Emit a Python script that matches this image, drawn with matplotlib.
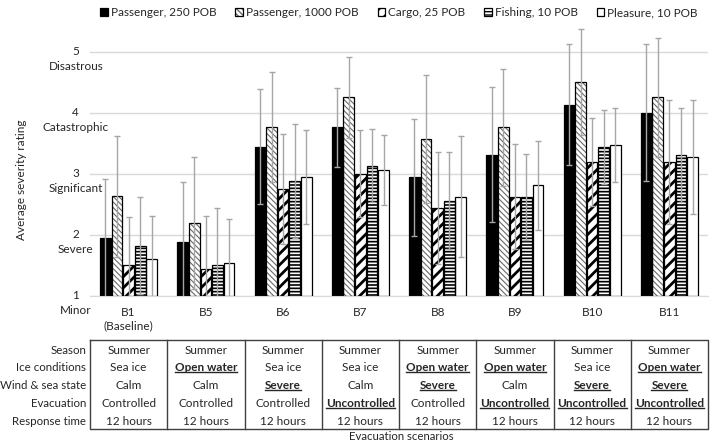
import numpy as np
import matplotlib.pyplot as plt
from matplotlib.patches import Patch
from matplotlib.lines import Line2D
from matplotlib.transforms import blended_transform_factory

plt.rcParams['font.family'] = ['Lato', 'DejaVu Sans']
plt.rcParams['font.size'] = 8.5
TXT = '#262626'

# scenarios and series
scenarios = ['B1\n(Baseline)', 'B5', 'B6', 'B7', 'B8', 'B9', 'B10', 'B11']
series = ['Passenger, 250 POB', 'Passenger, 1000 POB', 'Cargo, 25 POB',
          'Fishing, 10 POB', 'Pleasure, 10 POB']
pass250 = [1.94, 1.88, 3.44, 3.76, 2.94, 3.31, 4.13, 4.00]
pass1000 = [2.63, 2.19, 3.76, 4.25, 3.57, 3.76, 4.50, 4.25]
cargo25 = [1.50, 1.43, 2.75, 3.00, 2.44, 2.62, 3.19, 3.19]
fishing10 = [1.82, 1.50, 2.88, 3.13, 2.56, 2.62, 3.44, 3.31]
pleasure10 = [1.60, 1.53, 2.94, 3.06, 2.62, 2.81, 3.47, 3.27]
err250 = [0.97, 0.98, 0.94, 0.65, 0.96, 1.11, 0.99, 1.12]
err1000 = [0.99, 1.08, 0.90, 0.66, 1.05, 0.96, 0.87, 0.97]
err_cargo = [0.79, 0.87, 0.90, 0.71, 0.92, 0.86, 0.72, 1.01]
err_fish = [0.80, 0.94, 0.93, 0.60, 0.79, 0.70, 0.61, 0.77]
err_pleas = [0.71, 0.72, 0.77, 0.58, 0.99, 0.73, 0.61, 0.93]

severity = [1, 2, 3, 4, 5]
severity_names = ['Minor', 'Severe', 'Significant', 'Catastrophic', 'Disastrous']

row_names = ['Season', 'Ice conditions', 'Wind & sea state', 'Evacuation', 'Response time']
season = ['Summer'] * 8
ice = ['Sea ice', 'Open water', 'Sea ice', 'Sea ice', 'Open water', 'Open water', 'Sea ice', 'Open water']
wind = ['Calm', 'Calm', 'Severe', 'Calm', 'Severe', 'Calm', 'Severe', 'Severe']
evac = ['Controlled', 'Controlled', 'Controlled', 'Uncontrolled', 'Controlled',
        'Uncontrolled', 'Uncontrolled', 'Uncontrolled']
response = ['12 hours'] * 8

W, H = 716, 442
fig = plt.figure(figsize=(W / 100, H / 100), dpi=100)
ax = fig.add_axes([90 / W, 1 - 295.7 / H, 618 / W, 271.5 / H])

x = np.arange(len(scenarios))
vals = [pass250, pass1000, cargo25, fishing10, pleasure10]
errs = [err250, err1000, err_cargo, err_fish, err_pleas]
# (fill, hatch, hatch color, hatch linewidth)
styles = [('black', '', 'black', 1.0),
          ('white', '\\\\\\\\\\\\', '#6a6a6a', 0.8),
          ('white', '///', 'black', 2.0),
          ('white', '-----', 'black', 1.2),
          ('white', '', 'black', 1.0)]
bw, pitch = 0.138, 0.15
handles = []
for i, (v, e, (fc, hatch, hc, hlw)) in enumerate(zip(vals, errs, styles)):
    xs = x + (i - 2) * pitch
    with plt.rc_context({'hatch.linewidth': hlw}):
        ax.bar(xs, np.array(v) - 1, bw, bottom=1, color=fc, edgecolor=hc,
               hatch=hatch, linewidth=0, zorder=2)
        hp = Patch(facecolor=fc, edgecolor=hc, hatch=hatch, linewidth=0)
    ax.bar(xs, np.array(v) - 1, bw, bottom=1, fill=False, edgecolor='black',
           linewidth=0.9, zorder=3)
    op = Patch(fill=False, edgecolor='black', linewidth=0.9)
    handles.append((hp, op))
    ax.errorbar(xs, v, yerr=e, fmt='none', ecolor='#a6a6a6', elinewidth=1,
                capsize=2.2, capthick=1, zorder=4)

ax.set_xlim(-0.5, len(scenarios) - 0.5)
ax.set_ylim(1, 5.45)
ax.set_yticks(severity)
ax.set_yticklabels([])
ax.grid(axis='y', color='#d9d9d9', lw=1, zorder=0)
ax.tick_params(length=0)
for s in ['top', 'right', 'left']:
    ax.spines[s].set_visible(False)
ax.spines['bottom'].set_color('#d9d9d9')
ax.set_xticks(x)
ax.set_xticklabels(scenarios, color=TXT, linespacing=1.25)
ax.tick_params(axis='x', pad=8)

ytr = blended_transform_factory(ax.transAxes, ax.transData)
for s, n in zip(severity, severity_names):
    ax.text(-0.023, s, str(s), transform=ytr, ha='center', va='center', color=TXT)
    ax.text(-0.023, s - 0.25, n, transform=ytr, ha='center', va='center', color=TXT)

fig.text(22 / W, 1 - 180 / H, 'Average severity rating', rotation=90,
         ha='center', va='center', color=TXT)

fig.legend(handles, series, loc='center', bbox_to_anchor=(399 / W, 1 - 13 / H),
           ncol=5, frameon=False, handlelength=0.65, handleheight=0.65,
           handletextpad=0.25, columnspacing=1.6, labelcolor=TXT)

# scenario table below the chart
ttr = blended_transform_factory(ax.transData, fig.transFigure)
top, bot = 1 - 340 / H, 1 - 429 / H
ax.plot([-0.5, 7.5, 7.5, -0.5, -0.5], [top, top, bot, bot, top], transform=ttr,
        color='#404040', lw=1, clip_on=False)
for b in np.arange(0.5, 7.5, 1):
    ax.plot([b, b], [top, bot], transform=ttr, color='#404040', lw=1, clip_on=False)

rows = [season, ice, wind, evac, response]
row_y = [350, 367.7, 385.7, 403.7, 421.7]
bold_texts = []
for name, row, ry in zip(row_names, rows, row_y):
    fy = 1 - ry / H
    fig.text(86 / W, fy, name, ha='right', va='center', color=TXT, fontsize=8.3)
    for j, cell in enumerate(row):
        bold = cell != row[0]
        t = ax.text(j, fy, cell, transform=ttr, ha='center', va='center',
                    color=TXT, fontweight='bold' if bold else 'normal')
        if bold:
            bold_texts.append(t)

fig.text(401 / W, 1 - 441.5 / H, 'Evacuation scenarios', ha='center', va='bottom',
         color=TXT, fontsize=8.2)

# underline the bold cells
fig.canvas.draw()
rend = fig.canvas.get_renderer()
inv = fig.transFigure.inverted()
for t in bold_texts:
    bb = t.get_window_extent(rend)
    (x0, y0), (x1, _) = inv.transform([(bb.x0, bb.y0 + 1.5), (bb.x1, bb.y0)])
    fig.add_artist(Line2D([x0, x1], [y0, y0], transform=fig.transFigure,
                          color=TXT, lw=1))

fig.savefig('out.png', dpi=100)
